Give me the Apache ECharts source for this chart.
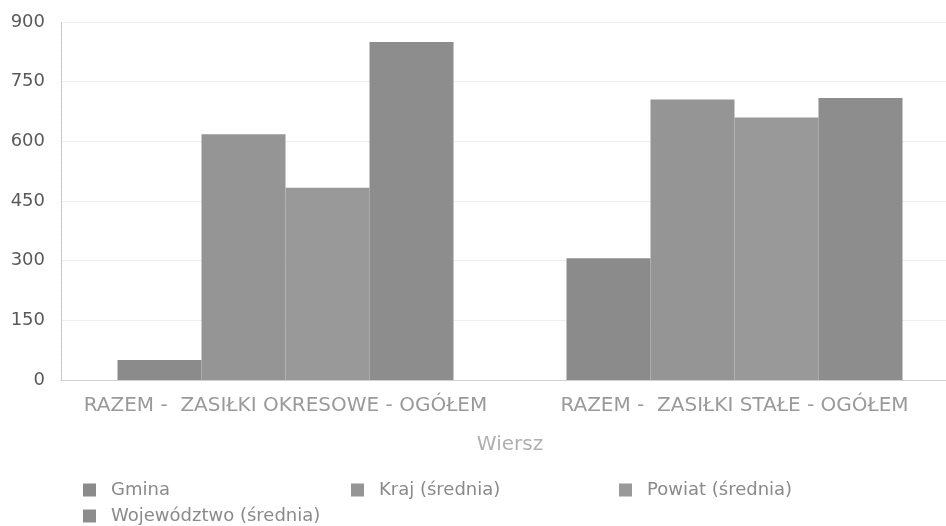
<!DOCTYPE html>
<html>
<head>
<meta charset="utf-8">
<script src="https://cdn.jsdelivr.net/npm/echarts@6/dist/echarts.min.js"></script>
<style>html,body{margin:0;padding:0;background:#fff;overflow:hidden;}#c{width:960px;height:526px;}</style>
</head>
<body>
<div id="c"></div>
<script>
const categories = ['RAZEM -  ZASIŁKI OKRESOWE - OGÓŁEM', 'RAZEM -  ZASIŁKI STAŁE - OGÓŁEM'];
const seriesNames = ['Gmina', 'Kraj (średnia)', 'Powiat (średnia)', 'Województwo (średnia)'];
const gmina = [50, 306];
const kraj = [618, 705];
const powiat = [483, 660];
const wojewodztwo = [850, 709];
const yTicks = [0, 150, 300, 450, 600, 750, 900];
const colors = ['#8b8b8b', '#959595', '#999999', '#8d8d8d'];

const font = 'DejaVu Sans';
const chart = echarts.init(document.getElementById('c'), null, {renderer: 'canvas'});
const values = [gmina, kraj, powiat, wojewodztwo];
chart.setOption({
  animation: false,
  color: colors,
  textStyle: {fontFamily: font},
  grid: {left: 61, top: 22, width: 898, height: 358, containLabel: false},
  xAxis: {
    type: 'category',
    data: categories,
    name: 'Wiersz',
    nameLocation: 'middle',
    nameGap: 55,
    nameTextStyle: {color: '#b0b0b0', fontSize: 20, fontFamily: font},
    axisLine: {show: true, lineStyle: {color: '#d0d0d0'}},
    axisTick: {show: false},
    axisLabel: {color: '#9a9a9a', fontSize: 20, margin: 16, fontFamily: font, interval: 0}
  },
  yAxis: {
    type: 'value',
    min: yTicks[0],
    max: yTicks[yTicks.length - 1],
    interval: 150,
    axisLine: {show: true, lineStyle: {color: '#bdbdbd', type: 'dotted'}},
    axisTick: {show: false},
    splitLine: {lineStyle: {color: '#eeeeee'}},
    axisLabel: {color: '#5a5a5a', fontSize: 18, margin: 16, fontFamily: font}
  },
  legend: {
    left: 78,
    top: 472,
    width: 830,
    itemWidth: 13,
    itemHeight: 13,
    itemGap: 0,
    icon: 'rect',
    formatter: '{a|{name}}',
    textStyle: {
      color: '#8a8a8a',
      fontSize: 18,
      fontFamily: font,
      rich: {a: {width: 240, padding: [4, 0, 4, 10], fontSize: 18, lineHeight: 16, color: '#8a8a8a', fontFamily: font}}
    },
    data: seriesNames
  },
  series: seriesNames.map((n, i) => ({
    name: n,
    type: 'bar',
    data: values[i],
    barWidth: 84,
    barGap: '0%',
    itemStyle: {color: colors[i]}
  }))
});
</script>
</body>
</html>
